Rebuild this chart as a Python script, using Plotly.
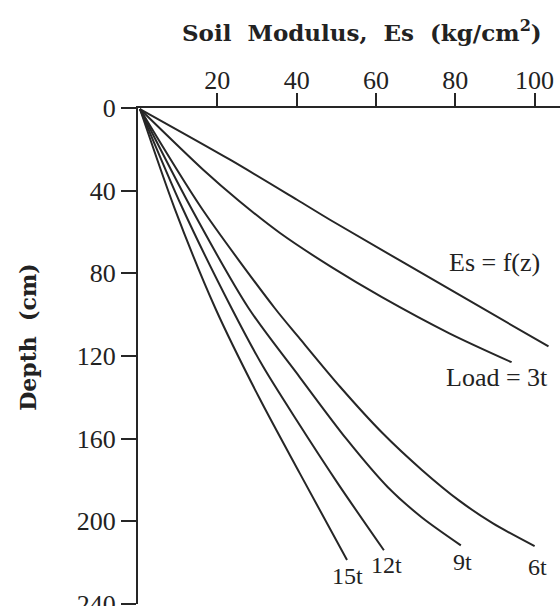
import plotly.graph_objects as go

# ---- data (Es in kg/cm^2, depth in cm) ----
fz_es    = [0.5, 23.2, 40.1, 48.5, 82.9, 103.5]
fz_depth = [0.5, 25.0, 44.4, 54.2, 92.5, 115.4]

t3_es    = [0.5, 16.5, 25.5, 35.8, 48.8, 61.5, 78.5, 94.2]
t3_depth = [0.5, 30.0, 45.0, 60.5, 77.0, 91.5, 109.0, 123.0]

t6_es    = [0.5, 16.0, 34.5, 40.5, 51.0, 61.7, 71.5, 81.0, 89.5, 100.0]
t6_depth = [0.5, 48.4, 96.9, 110.9, 135.0, 157.4, 175.0, 190.0, 201.0, 212.0]

t9_es    = [0.5, 13.4, 27.9, 40.8, 52.5, 63.0, 71.5, 81.4]
t9_depth = [0.5, 48.4, 96.9, 130.3, 160.0, 183.5, 198.0, 211.6]

t12_es    = [0.5, 11.2, 23.6, 31.5, 40.0, 50.5, 62.0]
t12_depth = [0.5, 48.4, 96.9, 125.0, 151.1, 182.0, 214.0]

t15_es    = [0.5, 9.2, 19.5, 30.5, 40.8, 52.7]
t15_depth = [0.5, 48.4, 96.9, 140.0, 176.8, 218.7]

x_ticks = [20, 40, 60, 80, 100]
y_ticks = [0, 40, 80, 120, 160, 200, 240]

curve_labels = ["Es = f(z)", "Load = 3t", "6t", "9t", "12t", "15t"]
label_es     = [89.9, 90.5, 100.8, 81.7, 62.7, 52.7]
label_depth  = [74.6, 130.3, 222.3, 219.9, 221.3, 226.6]
label_size   = [26, 26, 24, 24, 24, 24]

LINE = "#262626"
SERIF = "Liberation Serif"

fig = go.Figure()
for xs, ys in [(fz_es, fz_depth), (t3_es, t3_depth), (t6_es, t6_depth),
               (t9_es, t9_depth), (t12_es, t12_depth), (t15_es, t15_depth)]:
    fig.add_trace(go.Scatter(x=xs, y=ys, mode="lines",
                             line=dict(color=LINE, width=2, shape="spline", smoothing=0.8),
                             showlegend=False, hoverinfo="skip"))

for txt, xv, yv, sz in zip(curve_labels, label_es, label_depth, label_size):
    fig.add_annotation(x=xv, y=yv, xref="x", yref="y", text=txt, showarrow=False,
                       font=dict(family=SERIF, size=sz, color="#222"))

NB = "\u00a0 "
fig.add_annotation(x=0.531, y=1.189, xref="paper", yref="paper",
                   text="<b>Soil" + NB + "Modulus," + NB + "Es" + NB + "(kg/cm<sup>2</sup>)</b>",
                   showarrow=False, font=dict(family="DejaVu Serif", size=23, color="#222"))
fig.add_annotation(x=-0.297, y=0.538, xref="paper", yref="paper",
                   text="<b>Depth\u00a0 (cm)</b>", showarrow=False, textangle=-90,
                   font=dict(family="DejaVu Serif", size=22, color="#222"))

fig.update_layout(
    width=560, height=606,
    margin=dict(l=137.5, r=0, t=108, b=2.4, autoexpand=False),
    paper_bgcolor="white", plot_bgcolor="white",
    template="none",
    font=dict(family=SERIF, color="#222"),
    xaxis=dict(side="top", range=[0, 106.4], tickvals=x_ticks, ticks="outside", ticklen=13,
               tickwidth=1.5, tickcolor=LINE, showline=True, linecolor=LINE, linewidth=2,
               showgrid=False, zeroline=False, automargin=False, ticklabelstandoff=-6,
               ticklabeloverflow="allow",
               tickfont=dict(family=SERIF, size=26, color="#222")),
    yaxis=dict(range=[240, 0], tickvals=y_ticks, ticks="outside", ticklen=15,
               tickwidth=1.5, tickcolor=LINE, showline=True, linecolor=LINE, linewidth=2,
               showgrid=False, zeroline=False, automargin=False, ticklabeloverflow="allow",
               tickfont=dict(family=SERIF, size=26, color="#222")),
)

fig.write_html("out.html")
